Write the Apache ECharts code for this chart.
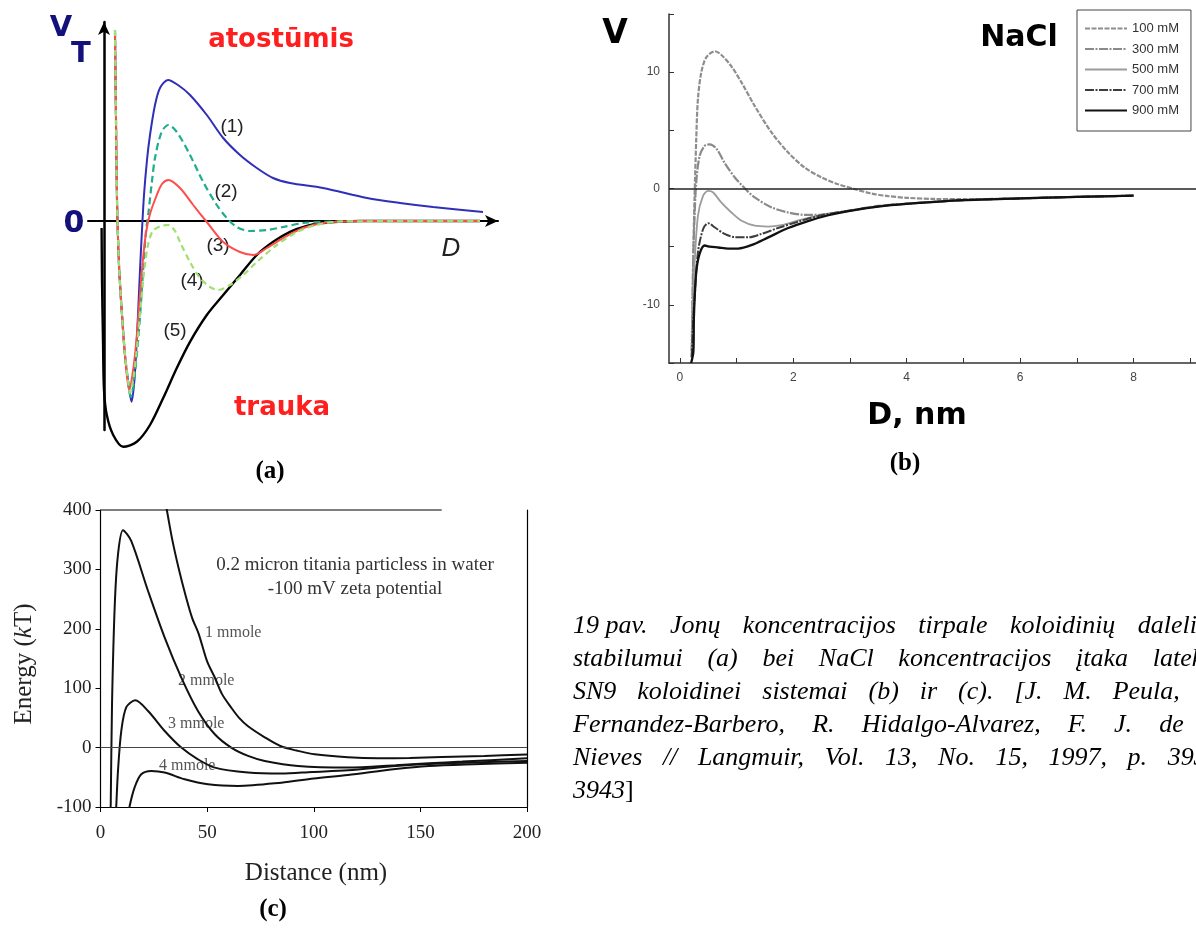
<!DOCTYPE html>
<html>
<head>
<meta charset="utf-8">
<title>19 pav. Jonų koncentracijos įtaka koloidinių dalelių stabilumui</title>
<script src="https://cdn.jsdelivr.net/npm/echarts@6.0.0/dist/echarts.min.js"></script>
<style>
  html, body { margin: 0; padding: 0; background: #fff; }
  #chart { width: 1196px; height: 928px; }
</style>
</head>
<body>
<div id="chart"></div>
<script>
// (a) schematic V_T(D) curves, arbitrary units
const aCurve1 = [[2.75,95.5],[3,50.5],[3.25,10.5],[3.75,-22],[4.5,-47],[5.25,-67],[6,-80],[6.9,-90.4],[7.5,-82],[8,-67],[8.5,-47],[9,-24.5],[9.5,-4.5],[10,13],[10.75,30.5],[11.5,43],[12.75,58],[14,66.5],[16,70.5],[18.5,68],[21.5,63],[25.7,53],[29.8,41.5],[34,33],[38.2,26.5],[42.25,21.5],[46.5,19],[54.75,16.5],[65.75,11.5],[74,9],[82.25,7],[94.75,4.5]];
const aCurve2 = [[2.75,95.5],[3,50.5],[3.25,10.5],[3.75,-22],[4.5,-47],[5.25,-67],[6,-79.5],[6.7,-87.9],[7.5,-80],[8.25,-66],[9,-48],[9.8,-24],[10.5,-5],[11.1,4],[12,20],[12.75,31.5],[14.4,44.5],[16.1,48],[18.2,44.5],[21.5,33],[24.8,19.5],[28.2,8],[30.7,1.5],[33.2,-3],[36.5,-5],[40.7,-4.5],[44.8,-3],[49.8,-1],[54.75,-0.5],[64,0],[94,0]];
const aCurve3 = [[2.75,95.5],[3,50.5],[3.25,10.5],[3.75,-22],[4.5,-47],[5.25,-67],[6.3,-84.5],[7.1,-77],[8,-62],[8.8,-42],[9.6,-22],[10.5,-6],[11.5,3.5],[13.2,13],[14.5,18.5],[16.1,20.5],[19,16.5],[22.3,8],[25.7,-0.5],[29.8,-10.5],[34,-15.5],[37.3,-17],[40.7,-13.5],[44.8,-8.5],[49.8,-3.5],[54.8,-1],[64,0],[94,0]];
const aCurve4 = [[2.75,95.5],[3,50.5],[3.25,10.5],[3.75,-22],[4.5,-47],[5.25,-67],[6,-79.5],[6.5,-86],[7.4,-78],[8.3,-62],[9.2,-42],[10.1,-24],[11,-12],[12.2,-5],[14.25,-2.5],[16.1,-2],[17.75,-5],[19,-10.5],[21.5,-20.5],[24,-28.5],[26.5,-33],[28.6,-34.5],[31.5,-32],[34.8,-27],[38.2,-20.5],[43.2,-12],[48.2,-5.5],[53.2,-2],[59,-0.25],[94,0]];
const aCurve5 = [[-0.6,-3.5],[-0.5,-29.5],[-0.25,-59.5],[0,-84.5],[0.7,-97],[2.3,-107],[4.8,-112.9],[8.2,-110.4],[11.5,-102],[14.8,-88.5],[18.2,-73.5],[21.5,-60.4],[25.7,-47],[29.8,-37],[34,-27],[38.2,-17],[42.3,-10.4],[46.5,-5.4],[50.7,-2.4],[54.8,-1],[64,0],[94,0]];

// (b) V vs D, nm for NaCl concentrations
const bNames = ['100 mM', '300 mM', '500 mM', '700 mM', '900 mM'];
const b100 = [[0.21,-14.5],[0.22,-12.4],[0.235,-6.6],[0.26,-0.9],[0.29,4.2],[0.32,7.7],[0.38,10],[0.47,11.3],[0.62,11.8],[0.73,11.5],[0.91,10.5],[1.09,9.1],[1.32,7.1],[1.62,4.8],[1.91,3.1],[2.2,1.8],[2.5,0.95],[2.79,0.37],[3.09,-0.06],[3.38,-0.43],[3.67,-0.65],[4,-0.8],[4.5,-0.9],[5,-0.92],[6,-0.85],[7,-0.72],[8,-0.62]];
const b300 = [[0.21,-14],[0.23,-8],[0.25,-3.8],[0.29,0.5],[0.35,2.8],[0.44,3.67],[0.53,3.8],[0.65,3.4],[0.79,2.2],[0.97,0.95],[1.15,0],[1.32,-0.77],[1.62,-1.63],[1.91,-2.06],[2.2,-2.26],[2.5,-2.26],[2.79,-2.06],[3,-1.9],[3.5,-1.5],[4,-1.3],[5,-1],[6,-0.85],[7,-0.72],[8,-0.62]];
const b500 = [[0.21,-14],[0.23,-10],[0.26,-6.6],[0.32,-2.35],[0.41,-0.63],[0.5,-0.2],[0.59,-0.34],[0.73,-1.2],[0.91,-2.06],[1.09,-2.78],[1.32,-3.2],[1.56,-3.27],[1.79,-3.15],[2.09,-2.75],[2.5,-2.25],[3,-1.88],[3.5,-1.52],[4,-1.3],[5,-1],[6,-0.85],[7,-0.72],[8,-0.62]];
const b700 = [[0.21,-14.5],[0.24,-11],[0.26,-9.5],[0.32,-5.5],[0.41,-3.5],[0.5,-2.98],[0.62,-3.35],[0.79,-3.9],[0.97,-4.18],[1.21,-4.2],[1.44,-3.9],[1.73,-3.4],[2.09,-2.85],[2.5,-2.3],[3,-1.9],[3.5,-1.53],[4,-1.31],[5,-1],[6,-0.85],[7,-0.72],[8,-0.62]];
const b900 = [[0.2,-15],[0.24,-14],[0.25,-10.9],[0.29,-7.2],[0.35,-5.6],[0.44,-4.9],[0.53,-5],[0.68,-5.07],[0.85,-5.16],[1.03,-5.16],[1.26,-4.87],[1.56,-4.2],[1.91,-3.4],[2.26,-2.8],[2.62,-2.3],[3,-1.92],[3.5,-1.55],[4,-1.32],[5,-1],[6,-0.85],[7,-0.72],[8,-0.62]];
const bXTicks = [0, 1, 2, 3, 4, 5, 6, 7, 8, 9];
const bXLabels = [0, 2, 4, 6, 8];
const bYTicks = [-15, -10, -5, 0, 5, 10, 15];
const bYLabels = [-10, 0, 10];

// (c) energy (kT) vs distance (nm)
const cNames = ['1 mmole', '2 mmole', '3 mmole', '4 mmole'];
const c1 = [[30.5,410],[31,402],[33.6,351],[36.7,301],[39.9,256],[43,218],[46,192],[50,145],[53.6,118],[57,90],[61.2,67.8],[65,50],[69.2,35.9],[77,17.3],[84.6,2.2],[92,-5],[100.4,-11.3],[116,-16.3],[130,-18],[145,-17.5],[160,-16],[180,-14],[200,-11.5]];
const c2 = [[4.6,-110],[4.8,-95],[5.4,73],[6.7,241],[8.2,325],[10.55,366],[14.4,348],[22.3,263.6],[30.1,185],[37.9,117.8],[45.7,61.6],[53.6,22.4],[61.3,0],[69.2,-14],[77,-22.5],[92.6,-31],[116,-33.7],[138.4,-29.8],[154,-26.4],[169.6,-23.6],[200,-18]];
const c3 = [[7.2,-110],[7.4,-98],[8.2,-39],[9.75,28],[12.1,68],[16.3,79.6],[22.3,61.6],[30.1,28],[37.9,0],[45.7,-19.7],[53.6,-33.7],[69.2,-42],[84.8,-43.8],[99.3,-41],[116,-38],[138.4,-31],[154,-27.5],[175,-25],[200,-22.5]];
const c4 = [[13.4,-110],[13.7,-98],[16,-67],[19.1,-45],[23.8,-39.4],[30.1,-42],[39.5,-53.4],[50.4,-61.8],[64.5,-64.6],[84.8,-59],[100,-52],[116,-46],[138.4,-36],[154,-31],[175,-28],[200,-25.3]];
const cFrameTop = [[0, 400], [160, 400]];

const chart = echarts.init(document.getElementById('chart'));

const sans = '"DejaVu Sans", sans-serif';
const serif = '"Liberation Serif", "Times New Roman", serif';
const arial = '"Liberation Sans", Arial, sans-serif';

function txt(text, x, y, size, opts) {
  opts = opts || {};
  return {
    type: 'text',
    x: x,
    y: y,
    rotation: opts.rotation || 0,
    silent: true,
    style: {
      text: text,
      fontSize: size,
      fontFamily: opts.family || sans,
      fontWeight: opts.weight || 'normal',
      fontStyle: opts.style || 'normal',
      fill: opts.color || '#000',
      align: opts.align || 'center',
      verticalAlign: 'middle',
      textAlign: opts.align || 'center',
      textVerticalAlign: 'middle',
      rich: opts.rich
    }
  };
}

// caption, justified like the source page
const capFont = 'italic 26px "Liberation Serif"';
const capLines = [
  ['19 pav.', 'Jonų', 'koncentracijos', 'tirpale', 'koloidinių', 'dalelių'],
  ['stabilumui', '(a)', 'bei', 'NaCl', 'koncentracijos', 'įtaka', 'lateksų'],
  ['SN9', 'koloidinei', 'sistemai', '(b)', 'ir', '(c).', '[J.', 'M.', 'Peula,'],
  ['Fernandez-Barbero,', 'R.', 'Hidalgo-Alvarez,', 'F.', 'J.', 'de'],
  ['Nieves', '//', 'Langmuir,', 'Vol.', '13,', 'No.', '15,', '1997,', 'p.', '3935-']
];
const capLastStart = [1137.7, 1152.7, 1112.7, 1159.3, 1167.7];
const capLeft = 573;
const capTop = 626;
const capPitch = 33;

const measure = document.createElement('canvas').getContext('2d');
measure.font = capFont;
const captionEls = [];
capLines.forEach((words, li) => {
  const w = words.map(s => measure.measureText(s).width);
  let used = 0;
  for (let i = 0; i < w.length - 1; i++) used += w[i];
  const gap = (capLastStart[li] - capLeft - used) / (words.length - 1);
  let x = capLeft;
  words.forEach((s, i) => {
    captionEls.push(txt(s, x, capTop + li * capPitch, 26, { family: serif, style: 'italic', align: 'left' }));
    x += w[i] + gap;
  });
});
captionEls.push({
  type: 'text', x: capLeft, y: capTop + 5 * capPitch, silent: true,
  style: {
    text: '{i|3943}{n|]}',
    align: 'left', verticalAlign: 'middle', textAlign: 'left', textVerticalAlign: 'middle',
    rich: {
      i: { fontSize: 26, fontFamily: serif, fontStyle: 'italic', fill: '#000' },
      n: { fontSize: 26, fontFamily: serif, fill: '#000' }
    }
  }
});

const labels = [
  // (a)
  txt('V', 61, 28, 29, { weight: 'bold', color: '#12127a' }),
  txt('T', 81, 54, 29, { weight: 'bold', color: '#12127a' }),
  txt('0', 74, 224, 30, { weight: 'bold', color: '#12127a' }),
  txt('atostūmis', 281, 40, 26, { weight: 'bold', color: '#ff1f1f' }),
  txt('trauka', 282, 408, 26, { weight: 'bold', color: '#ff1f1f' }),
  txt('D', 451, 249, 26, { family: arial, style: 'italic', color: '#222' }),
  txt('(1)', 232, 127, 19, { family: arial, color: '#222' }),
  txt('(2)', 226, 192, 19, { family: arial, color: '#222' }),
  txt('(3)', 218, 246, 19, { family: arial, color: '#222' }),
  txt('(4)', 192, 281, 19, { family: arial, color: '#222' }),
  txt('(5)', 175, 331, 19, { family: arial, color: '#222' }),
  txt('(a)', 270, 472, 25, { family: serif, weight: 'bold' }),
  // (b)
  txt('V', 615, 34, 33, { weight: 'bold' }),
  txt('NaCl', 1019, 38, 30, { weight: 'bold' }),
  txt('D, nm', 917, 416, 30, { weight: 'bold' }),
  txt('(b)', 905, 464, 25, { family: serif, weight: 'bold' }),
  // (c)
  txt('0.2 micron titania particless in water', 355, 565, 19, { family: serif, color: '#333' }),
  txt('-100 mV zeta potential', 355, 589, 19, { family: serif, color: '#333' }),
  txt(cNames[0], 205, 633, 16, { family: serif, color: '#555', align: 'left' }),
  txt(cNames[1], 178, 681, 16, { family: serif, color: '#555', align: 'left' }),
  txt(cNames[2], 168, 724, 16, { family: serif, color: '#555', align: 'left' }),
  txt(cNames[3], 159, 766, 16, { family: serif, color: '#555', align: 'left' }),
  txt('Distance (nm)', 316, 873, 25, { family: serif, color: '#222' }),
  {
    type: 'text', x: 24, y: 664, rotation: Math.PI / 2, silent: true,
    style: {
      text: '{n|Energy (}{i|k}{n|T)}',
      align: 'center', verticalAlign: 'middle', textAlign: 'center', textVerticalAlign: 'middle',
      rich: {
        n: { fontSize: 25, fontFamily: serif, fill: '#222' },
        i: { fontSize: 25, fontFamily: serif, fontStyle: 'italic', fill: '#222' }
      }
    }
  },
  txt('(c)', 273, 910, 25, { family: serif, weight: 'bold' })
];

function line(data, xi, color, width, type, extra) {
  return Object.assign({
    type: 'line',
    xAxisIndex: xi,
    yAxisIndex: xi,
    data: data,
    symbol: 'none',
    showSymbol: false,
    smooth: 0.3,
    silent: true,
    lineStyle: { color: color, width: width, type: type || 'solid' },
    itemStyle: { color: color }
  }, extra || {});
}

const hidden = { axisTick: { show: false }, axisLabel: { show: false }, splitLine: { show: false } };

const option = {
  animation: false,
  backgroundColor: '#fff',
  grid: [
    { left: 88, top: 22, width: 410, height: 408, outerBoundsMode: 'none' },
    { left: 669, top: 14, width: 527, height: 349, outerBoundsMode: 'none' },
    { left: 100.5, top: 510, width: 426.5, height: 297, outerBoundsMode: 'none' }
  ],
  legend: {
    data: bNames,
    orient: 'vertical',
    left: 1077,
    top: 10,
    padding: [12, 12, 14, 7],
    itemWidth: 42,
    itemHeight: 12,
    itemGap: 7.5,
    borderColor: '#444',
    borderWidth: 1,
    selectedMode: false,
    itemStyle: { opacity: 0 },
    textStyle: { fontSize: 13, fontFamily: arial, color: '#333', lineHeight: 12 }
  },
  xAxis: [
    Object.assign({
      gridIndex: 0, type: 'value', min: -4, max: 98.5,
      axisLine: { onZero: true, symbol: ['none', 'arrow'], symbolSize: [9, 13], lineStyle: { color: '#000', width: 2 } }
    }, hidden),
    {
      gridIndex: 1, type: 'value', min: -0.19, max: 9.1,
      axisLine: { onZero: false, lineStyle: { color: '#333', width: 1.5 } },
      axisTick: { show: true, inside: true, length: 5, customValues: bXTicks, lineStyle: { color: '#333' } },
      axisLabel: { customValues: bXLabels, fontSize: 12, fontFamily: arial, color: '#444', margin: 9 },
      splitLine: { show: false }
    },
    {
      gridIndex: 2, type: 'value', min: 0, max: 200, interval: 50,
      axisLine: { onZero: false, lineStyle: { color: '#000', width: 1.2 } },
      axisTick: { show: true, length: 5, lineStyle: { color: '#000' } },
      axisLabel: { fontSize: 19, fontFamily: serif, color: '#222', margin: 17 },
      splitLine: { show: false }
    }
  ],
  yAxis: [
    Object.assign({
      gridIndex: 0, type: 'value', min: -104.5, max: 99.5,
      axisLine: { onZero: true, symbol: ['none', 'arrow'], symbolSize: [9, 13], lineStyle: { color: '#000', width: 2.5 } }
    }, hidden),
    {
      gridIndex: 1, type: 'value', min: -15, max: 15,
      axisLine: { onZero: false, lineStyle: { color: '#333', width: 1.5 } },
      axisTick: { show: true, inside: true, length: 5, customValues: bYTicks, lineStyle: { color: '#333' } },
      axisLabel: { customValues: bYLabels, fontSize: 12, fontFamily: arial, color: '#444', margin: 9 },
      splitLine: { show: false }
    },
    {
      gridIndex: 2, type: 'value', min: -100, max: 400, interval: 100,
      axisLine: { onZero: false, lineStyle: { color: '#000', width: 1.2 } },
      axisTick: { show: true, length: 5, lineStyle: { color: '#000' } },
      axisLabel: { fontSize: 19, fontFamily: serif, color: '#222', margin: 9 },
      splitLine: { show: false }
    },
    Object.assign({
      gridIndex: 2, type: 'value', min: -100, max: 400, position: 'right',
      axisLine: { show: true, onZero: false, lineStyle: { color: '#000', width: 1.2 } }
    }, hidden)
  ],
  series: [
    // (a)
    line(aCurve5, 0, '#000', 2.4, 'solid', { clip: false }),
    line(aCurve1, 0, '#2f2fb8', 2, 'solid', { clip: false }),
    line(aCurve2, 0, '#1fae8c', 2.2, [7, 4], { clip: false }),
    line(aCurve3, 0, '#ff4d4d', 2, 'solid', { clip: false }),
    line(aCurve4, 0, '#9fe070', 2.2, [6, 4], { clip: false }),
    // (b)
    line(b100, 1, '#8e8e8e', 2.2, [5, 1.5], {
      name: bNames[0],
      markLine: {
        silent: true, symbol: 'none', label: { show: false },
        lineStyle: { color: '#222', width: 1.5, type: 'solid' },
        data: [{ yAxis: 0 }]
      }
    }),
    line(b300, 1, '#8a8a8a', 2.2, [9, 1.5, 2, 1.5], { name: bNames[1] }),
    line(b500, 1, '#9c9c9c', 1.8, 'solid', { name: bNames[2] }),
    line(b700, 1, '#3c3c3c', 2, [9, 1.5, 2, 1.5], { name: bNames[3] }),
    line(b900, 1, '#111', 2.3, 'solid', { name: bNames[4] }),
    // (c)
    line(cFrameTop, 2, '#000', 1.2, 'solid', { smooth: false, clip: false }),
    line(c1, 2, '#111', 2, 'solid', {
      markLine: {
        silent: true, symbol: 'none', label: { show: false },
        lineStyle: { color: '#444', width: 1, type: 'solid' },
        data: [{ yAxis: 0 }]
      }
    }),
    line(c2, 2, '#111', 2),
    line(c3, 2, '#111', 2),
    line(c4, 2, '#111', 2)
  ],
  graphic: { elements: labels.concat(captionEls) }
};

chart.setOption(option);
</script>
</body>
</html>
